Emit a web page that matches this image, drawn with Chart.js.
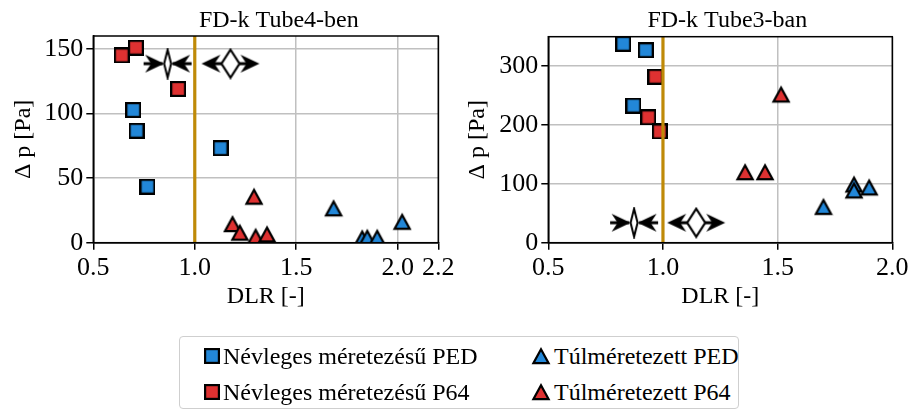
<!DOCTYPE html>
<html><head><meta charset="utf-8">
<script src="https://cdn.jsdelivr.net/npm/chart.js@4.4.1/dist/chart.umd.min.js"></script>
<style>
html,body{margin:0;padding:0;background:#fff;width:908px;height:410px;overflow:hidden;}
#c1{position:absolute;left:0;top:0;}
#c2{position:absolute;left:454px;top:0;}
#legend{position:absolute;left:179px;top:336px;width:560px;height:73px;border:1.5px solid #cfcfcf;border-radius:4px;box-sizing:border-box;font-family:'Liberation Serif','Times New Roman',serif;font-size:24px;color:#000;}
.item{position:absolute;display:flex;align-items:center;white-space:nowrap;height:30px;line-height:30px;}
.item canvas{margin-right:3px;}
</style></head><body>
<canvas id="c1" width="462" height="320"></canvas>
<canvas id="c2" width="454" height="320"></canvas>
<div id="legend"></div>
<script>
// ---------- data ----------
const seriesLabels = ['Névleges méretezésű PED', 'Névleges méretezésű P64', 'Túlméretezett PED', 'Túlméretezett P64'];
const chartTitles = ['FD-k Tube4-ben', 'FD-k Tube3-ban'];
const xAxisTitle = 'DLR [-]';
const yAxisTitle = 'Δ p [Pa]';
const dlrLimit = 1.0;

// Left: Tube4
const leftNominalPED_x = [0.697, 0.713, 0.767, 1.127];
const leftNominalPED_y = [102.7, 86.7, 43.4, 73.2];
const leftNominalP64_x = [0.640, 0.710, 0.918];
const leftNominalP64_y = [145, 151, 119];
const leftOverPED_x = [1.684, 1.825, 1.850, 1.899, 2.022];
const leftOverPED_y = [26.7, 3.4, 3.9, 3.9, 16.3];
const leftOverP64_x = [1.186, 1.222, 1.292, 1.300, 1.356];
const leftOverP64_y = [14.5, 7.8, 35.7, 4.7, 6.5];
const leftConvergeX = [0.866], leftConvergeY = [138.6];
const leftDivergeX = [1.176], leftDivergeY = [138.6];
const leftXTicks = [0.5, 1.0, 1.5, 2.0, 2.2];
const leftYTicks = [0, 50, 100, 150];
const leftXRange = [0.5, 2.2], leftYRange = [0, 160];

// Right: Tube3
const rightNominalPED_x = [0.827, 0.925, 0.871];
const rightNominalPED_y = [338, 327, 233];
const rightNominalP64_x = [0.967, 0.936, 0.986];
const rightNominalP64_y = [282, 213, 189];
const rightOverPED_x = [1.700, 1.833, 1.833, 1.899];
const rightOverPED_y = [61, 99, 89, 94];
const rightOverP64_x = [1.358, 1.445, 1.515];
const rightOverP64_y = [120, 120, 252];
const rightConvergeX = [0.874], rightConvergeY = [34];
const rightDivergeX = [1.145], rightDivergeY = [34];
const rightXTicks = [0.5, 1.0, 1.5, 2.0];
const rightYTicks = [0, 100, 200, 300];
const rightXRange = [0.5, 2.0], rightYRange = [0, 350];

// ---------- styles ----------
const BLUE = '#2287d8', RED = '#de3131', GOLD = '#bf8a08', GRID = '#c0c0c0';
const FONT = "'Liberation Serif', 'Times New Roman', serif";

function squareImg(color) {
  const c = document.createElement('canvas'); c.width = 16; c.height = 16;
  const g = c.getContext('2d');
  g.fillStyle = color; g.fillRect(1, 1, 14, 14);
  g.lineWidth = 2.2; g.strokeStyle = '#000'; g.lineJoin = 'miter'; g.strokeRect(1.1, 1.1, 13.8, 13.8);
  return c;
}
function triangleImg(color) {
  const c = document.createElement('canvas'); c.width = 20; c.height = 20;
  const g = c.getContext('2d');
  g.beginPath(); g.moveTo(10, 3.2); g.lineTo(17.6, 17.2); g.lineTo(2.4, 17.2); g.closePath();
  g.fillStyle = color; g.fill();
  g.lineWidth = 2.2; g.lineJoin = 'miter'; g.strokeStyle = '#000'; g.stroke();
  return c;
}
function arrowHead(g, tipX, dir, cy) {
  // dir = +1 points right, -1 points left
  g.beginPath();
  g.moveTo(tipX, cy);
  g.lineTo(tipX - dir * 19, cy - 9);
  g.lineTo(tipX - dir * 13, cy);
  g.lineTo(tipX - dir * 19, cy + 9);
  g.closePath();
  g.fillStyle = '#000'; g.fill();
}
function convergeImg() {
  const c = document.createElement('canvas'); c.width = 50; c.height = 32;
  const g = c.getContext('2d'); const cy = 16;
  g.lineWidth = 3; g.strokeStyle = '#000';
  g.beginPath(); g.moveTo(1, cy); g.lineTo(20, cy); g.moveTo(30, cy); g.lineTo(49, cy); g.stroke();
  arrowHead(g, 21.5, 1, cy);
  arrowHead(g, 28.5, -1, cy);
  g.beginPath(); g.moveTo(25, 2); g.lineTo(28.5, cy); g.lineTo(25, 30); g.lineTo(21.5, cy); g.closePath();
  g.fillStyle = '#fff'; g.fill(); g.lineWidth = 2; g.stroke();
  return c;
}
function divergeImg() {
  const c = document.createElement('canvas'); c.width = 62; c.height = 32;
  const g = c.getContext('2d'); const cy = 16;
  g.lineWidth = 3; g.strokeStyle = '#000';
  g.beginPath(); g.moveTo(12, cy); g.lineTo(22, cy); g.moveTo(40, cy); g.lineTo(50, cy); g.stroke();
  arrowHead(g, 2, -1, cy);
  arrowHead(g, 60, 1, cy);
  g.beginPath(); g.moveTo(31, 2); g.lineTo(40, cy); g.lineTo(31, 30); g.lineTo(22, cy); g.closePath();
  g.fillStyle = '#fff'; g.fill(); g.lineWidth = 2.2; g.stroke();
  return c;
}

const markerImgs = [squareImg(BLUE), squareImg(RED), triangleImg(BLUE), triangleImg(RED)];
const convImg = convergeImg(), divImg = divergeImg();

function pts(xs, ys) { return xs.map((x, i) => ({x: x, y: ys[i]})); }

const framePlugin = {
  id: 'frame',
  afterDatasetsDraw(chart) {
    const {ctx, chartArea: a} = chart;
    ctx.save(); ctx.strokeStyle = '#000'; ctx.lineWidth = 1.5;
    ctx.strokeRect(a.left, a.top, a.right - a.left, a.bottom - a.top);
    ctx.restore();
  }
};
const titlePlugin = {
  id: 'ptitle',
  afterDraw(chart, args, opts) {
    const {ctx, chartArea: a} = chart;
    ctx.save(); ctx.font = '24px ' + FONT; ctx.fillStyle = '#000';
    ctx.textAlign = 'center'; ctx.textBaseline = 'alphabetic';
    ctx.fillText(opts.text, (a.left + a.right) / 2 + opts.dx, opts.baseline);
    ctx.restore();
  }
};

function makeChart(id, d) {
  const markerSets = [
    [d.npx, d.npy], [d.n6x, d.n6y], [d.opx, d.opy], [d.o6x, d.o6y]
  ].map((s, i) => ({
    label: seriesLabels[i], data: pts(s[0], s[1]),
    pointStyle: markerImgs[i], pointRadius: 8, order: 1, showLine: false
  }));
  const datasets = [
    {label: 'DLR=1', data: [{x: dlrLimit, y: d.yr[0]}, {x: dlrLimit, y: d.yr[1]}], showLine: true,
     borderColor: GOLD, borderWidth: 3.2, pointRadius: 0, order: 0},
    ...markerSets,
    {label: 'conv', data: pts(d.cx, d.cy), pointStyle: convImg, pointRadius: 10, order: 2},
    {label: 'div', data: pts(d.dx, d.dy), pointStyle: divImg, pointRadius: 10, order: 2}
  ];
  return new Chart(document.getElementById(id), {
    type: 'scatter',
    data: {datasets},
    plugins: [framePlugin, titlePlugin],
    options: {
      responsive: false, animation: false, devicePixelRatio: 1, events: [],
      layout: {padding: {left: 0, right: d.padRight, top: d.padTop, bottom: 0}},
      plugins: {legend: {display: false}, tooltip: {enabled: false},
        ptitle: {text: d.title, dx: d.titleDx, baseline: 27}},
      scales: {
        x: {
          type: 'linear', min: d.xr[0], max: d.xr[1],
          afterBuildTicks: s => { s.ticks = d.xt.map(v => ({value: v})); },
          afterFit: s => { s.height = 320 - d.bottomPx; s.paddingLeft = 0; s.paddingRight = 0; },
          grid: {color: GRID, lineWidth: 1.5, tickColor: '#000', tickWidth: 1.5, tickLength: 7},
          border: {display: true, color: '#000', width: 1.5},
          ticks: {autoSkip: false, maxRotation: 0, padding: 3, color: '#000',
            font: {family: FONT, size: 26, lineHeight: 1.2},
            callback: v => v.toFixed(1)},
          title: {display: true, text: xAxisTitle, color: '#000',
            font: {family: FONT, size: 24, lineHeight: 1.2}, padding: {top: 0, bottom: 9}}
        },
        y: {
          type: 'linear', min: d.yr[0], max: d.yr[1],
          afterBuildTicks: s => { s.ticks = d.yt.map(v => ({value: v})); },
          afterFit: s => { s.width = d.leftPx; },
          grid: {color: GRID, lineWidth: 1.5, tickColor: '#000', tickWidth: 1.5, tickLength: 7},
          border: {display: true, color: '#000', width: 1.5},
          ticks: {padding: 3, color: '#000', font: {family: FONT, size: 26},
            callback: v => String(v)},
          title: {display: true, text: yAxisTitle, color: '#000',
            font: {family: FONT, size: 24, lineHeight: 1.2}, padding: {top: 9, bottom: 0}}
        }
      }
    }
  });
}

makeChart('c1', {
  npx: leftNominalPED_x, npy: leftNominalPED_y, n6x: leftNominalP64_x, n6y: leftNominalP64_y,
  opx: leftOverPED_x, opy: leftOverPED_y, o6x: leftOverP64_x, o6y: leftOverP64_y,
  cx: leftConvergeX, cy: leftConvergeY, dx: leftDivergeX, dy: leftDivergeY,
  xt: leftXTicks, yt: leftYTicks, xr: leftXRange, yr: leftYRange,
  title: chartTitles[0], titleDx: 13,
  leftPx: 93.3, padRight: 23.7, padTop: 36, bottomPx: 242.7
});
makeChart('c2', {
  npx: rightNominalPED_x, npy: rightNominalPED_y, n6x: rightNominalP64_x, n6y: rightNominalP64_y,
  opx: rightOverPED_x, opy: rightOverPED_y, o6x: rightOverP64_x, o6y: rightOverP64_y,
  cx: rightConvergeX, cy: rightConvergeY, dx: rightDivergeX, dy: rightDivergeY,
  xt: rightXTicks, yt: rightYTicks, xr: rightXRange, yr: rightYRange,
  title: chartTitles[1], titleDx: 7,
  leftPx: 94.3, padRight: 15.7, padTop: 36.7, bottomPx: 242.7
});

// ---------- legend ----------
const legend = document.getElementById('legend');
const legendPos = [[24, 4], [24, 40], [351, 4], [351, 40]];
seriesLabels.forEach((lab, i) => {
  const it = document.createElement('div'); it.className = 'item';
  it.style.left = legendPos[i][0] + 'px'; it.style.top = legendPos[i][1] + 'px';
  const src = markerImgs[i];
  const mc = document.createElement('canvas'); mc.width = src.width; mc.height = src.height;
  mc.getContext('2d').drawImage(src, 0, 0);
  it.appendChild(mc);
  const sp = document.createElement('span'); sp.textContent = lab; it.appendChild(sp);
  legend.appendChild(it);
});
</script></body></html>
